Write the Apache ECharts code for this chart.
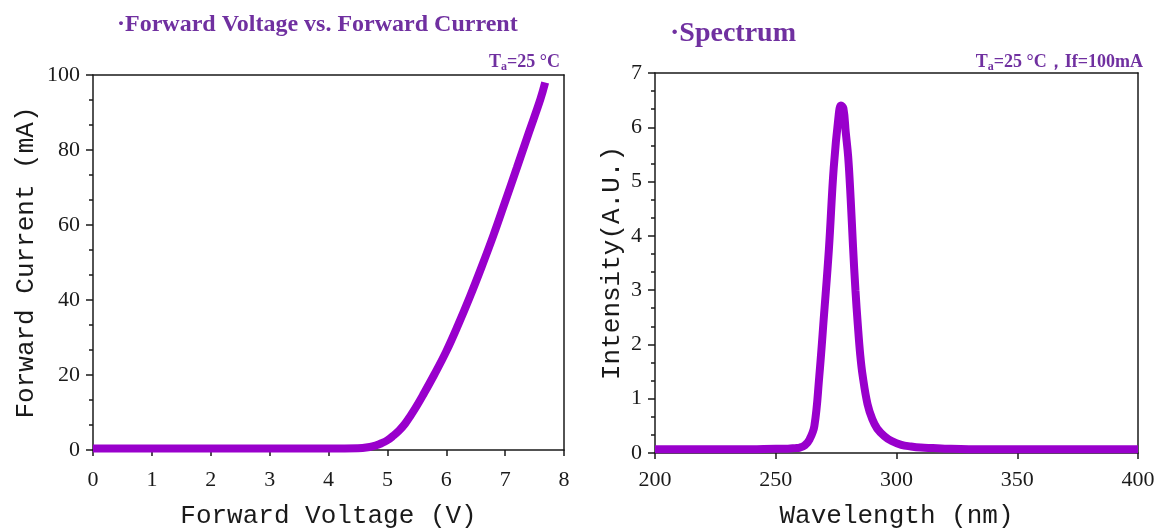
<!DOCTYPE html>
<html>
<head>
<meta charset="utf-8">
<script src="https://cdn.jsdelivr.net/npm/echarts@6/dist/echarts.min.js"></script>
<style>
  html, body { margin: 0; padding: 0; background: #fff; }
  #main { width: 1161px; height: 529px; }
</style>
</head>
<body>
<div id="main"></div>
<script>
// forward voltage (V) vs forward current (mA)
var voltage = [0, 1, 2, 3, 4, 4.5, 4.7, 4.8, 4.9, 5.0, 5.1, 5.2, 5.3, 5.4, 5.5, 5.6, 5.8, 6.0, 6.2, 6.4, 6.6, 6.8, 7.0, 7.2, 7.4, 7.6, 7.68];
var current = [0.4, 0.4, 0.4, 0.4, 0.4, 0.45, 0.8, 1.2, 1.8, 2.6, 3.8, 5.2, 7.0, 9.3, 11.8, 14.5, 20.2, 26.3, 33.3, 40.8, 48.8, 57.2, 66.2, 75.3, 84.5, 93.6, 98];

// spectrum, wavelength (nm) vs intensity (A.U.)
var wavelength = [200, 220, 240, 250, 255, 258, 260, 262, 264, 266, 268, 270, 272, 274, 276, 277, 278, 279, 280, 281, 282, 283, 284, 285, 286, 288, 290, 292, 295, 298, 302, 306, 310, 315, 320, 330, 350, 400];
var intensity = [0.07, 0.07, 0.07, 0.08, 0.08, 0.09, 0.1, 0.14, 0.25, 0.5, 1.4, 2.55, 3.75, 5.25, 6.2, 6.4, 6.35, 5.9, 5.45, 4.7, 3.8, 3.0, 2.35, 1.8, 1.42, 0.9, 0.62, 0.45, 0.31, 0.22, 0.15, 0.12, 0.1, 0.09, 0.08, 0.07, 0.07, 0.07];

var ivTicks = [0, 8, 1];       // min, max, interval
var ivYTicks = [0, 100, 20];
var spTicks = [200, 400, 50];
var spYTicks = [0, 7, 1];

function pairs(xs, ys) {
  return xs.map(function (x, i) { return [x, ys[i]]; });
}

var purple = '#9900cc';
var titleColor = '#7030a0';
var axisColor = '#1a1a1a';
var serif = 'Liberation Serif';
var mono = 'Liberation Mono';

function mainX(grid, t, name, offset, gap, margin) {
  return {
    type: 'value', gridIndex: grid, position: 'bottom',
    min: t[0], max: t[1], interval: t[2], offset: offset,
    name: name, nameLocation: 'middle', nameGap: gap,
    nameTextStyle: { fontFamily: mono, fontSize: 26, color: axisColor },
    axisLine: { show: true, lineStyle: { color: axisColor, width: 1.5 } },
    axisTick: { show: true, length: 6, lineStyle: { color: axisColor, width: 1.5 } },
    axisLabel: { margin: margin, fontFamily: serif, fontSize: 22, color: axisColor },
    splitLine: { show: false }
  };
}

function mainY(grid, t, name, gap) {
  return {
    type: 'value', gridIndex: grid, position: 'left',
    min: t[0], max: t[1], interval: t[2],
    name: name, nameLocation: 'middle', nameGap: gap,
    nameTextStyle: { fontFamily: mono, fontSize: 26, color: axisColor },
    axisLine: { show: true, lineStyle: { color: axisColor, width: 1.5 } },
    axisTick: { show: true, length: 7, lineStyle: { color: axisColor, width: 1.5 } },
    minorTick: { show: true, splitNumber: 3, length: 4, lineStyle: { color: axisColor, width: 1.5 } },
    axisLabel: { margin: 13, fontFamily: serif, fontSize: 22, color: axisColor },
    splitLine: { show: false }
  };
}

// plain lines that close the box on top and right
function frameAxis(grid, pos, t) {
  return {
    type: 'value', gridIndex: grid, position: pos,
    min: t[0], max: t[1],
    axisLine: { show: true, onZero: false, lineStyle: { color: axisColor, width: 1.5 } },
    axisTick: { show: false }, axisLabel: { show: false }, splitLine: { show: false }
  };
}

var noteRich = {
  b: { fontFamily: serif, fontWeight: 'bold', fontSize: 18, color: titleColor, lineHeight: 22 },
  s: { fontFamily: serif, fontWeight: 'bold', fontSize: 12, color: titleColor, lineHeight: 12, verticalAlign: 'bottom' }
};

var chart = echarts.init(document.getElementById('main'));

var option = {
  backgroundColor: '#fff',
  animation: false,
  title: [
    {
      text: '·Forward Voltage vs. Forward Current', left: 117, top: 13, padding: 0,
      textStyle: { fontFamily: serif, fontWeight: 'bold', fontSize: 24, color: titleColor }
    },
    {
      text: '·Spectrum', left: 670, top: 20, padding: 0,
      textStyle: { fontFamily: serif, fontWeight: 'bold', fontSize: 28, color: titleColor }
    },
    {
      text: '{b|T}{s|a}{b|=25 °C}', right: 601, top: 51, padding: 0,
      textStyle: { rich: noteRich }
    },
    {
      text: '{b|T}{s|a}{b|=25 °C，If=100mA}', right: 18, top: 51, padding: 0,
      textStyle: { rich: noteRich }
    }
  ],
  grid: [
    { left: 93, top: 75, width: 471, height: 375, outerBoundsMode: 'none' },
    { left: 655, top: 73, width: 483, height: 380, outerBoundsMode: 'none' }
  ],
  xAxis: [
    mainX(0, ivTicks, 'Forward Voltage (V)', 4, 49, 15),
    frameAxis(0, 'top', ivTicks),
    mainX(1, spTicks, 'Wavelength (nm)', 0, 50, 16),
    frameAxis(1, 'top', spTicks)
  ],
  yAxis: [
    mainY(0, ivYTicks, 'Forward Current (mA)', 54),
    frameAxis(0, 'right', ivYTicks),
    mainY(1, spYTicks, 'Intensity(A.U.)', 30),
    frameAxis(1, 'right', spYTicks)
  ],
  series: [
    {
      type: 'line', xAxisIndex: 0, yAxisIndex: 0,
      data: pairs(voltage, current),
      smooth: 0.4, showSymbol: false, clip: false,
      lineStyle: { color: purple, width: 8 }
    },
    {
      type: 'line', xAxisIndex: 2, yAxisIndex: 2,
      data: pairs(wavelength, intensity),
      smooth: 0.4, showSymbol: false, clip: false,
      lineStyle: { color: purple, width: 8 }
    }
  ]
};

chart.setOption(option);
</script>
</body>
</html>
